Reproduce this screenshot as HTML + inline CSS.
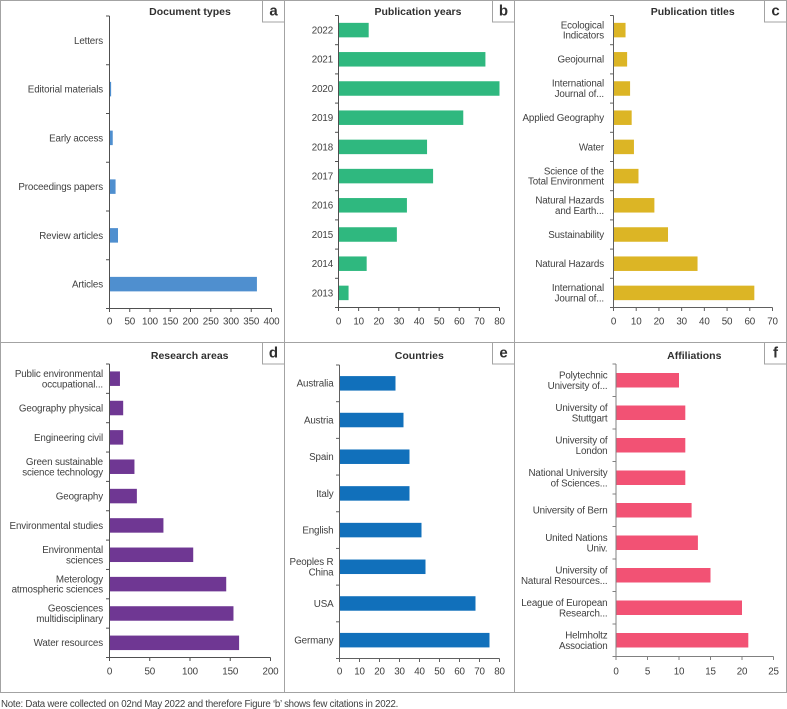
<!DOCTYPE html>
<html lang="en">
<head>
<meta charset="utf-8">
<title>Bibliometric overview charts</title>
<style>
html,body{margin:0;padding:0;background:#fff;}
body{width:787px;height:709px;overflow:hidden;}
svg{display:block;font-family:"Liberation Sans",sans-serif;}
.lbl{font-size:9.8px;letter-spacing:-0.14px;fill:#404040;}
.ttl{font-size:10.5px;font-weight:bold;fill:#303030;}
.let{font-size:15px;font-weight:bold;fill:#303030;}
.note{font-size:9.7px;letter-spacing:-0.235px;fill:#404040;}
</style>
</head>
<body>
<svg id="figure" xmlns="http://www.w3.org/2000/svg" width="787" height="709" viewBox="0 0 787 709">
  <g stroke="#a3a3a3" stroke-width="1" fill="none">
    <line x1="0" y1="0.5" x2="787" y2="0.5"/>
    <line x1="0.5" y1="0" x2="0.5" y2="692"/>
    <line x1="284.5" y1="0" x2="284.5" y2="692"/>
    <line x1="514.5" y1="0" x2="514.5" y2="692"/>
    <line x1="786.5" y1="0" x2="786.5" y2="692"/>
    <line x1="0" y1="342.5" x2="787" y2="342.5"/>
    <line x1="0" y1="692.5" x2="787" y2="692.5"/>
  </g>
  <text class="note" x="1" y="707">Note: Data were collected on 02nd May 2022 and therefore Figure ‘b’ shows few citations in 2022.</text>
</svg>
<script>
/* Panel a */
const docCategories = ["Letters","Editorial materials","Early access","Proceedings papers","Review articles","Articles"];
const docValues = [0,4,8,15,21,364];
const docTicks = [0,50,100,150,200,250,300,350,400];
/* Panel b */
const yearCategories = ["2022","2021","2020","2019","2018","2017","2016","2015","2014","2013"];
const yearValues = [15,73,80,62,44,47,34,29,14,5];
const yearTicks = [0,10,20,30,40,50,60,70,80];
/* Panel c */
const titleCategories = ["Ecological|Indicators","Geojournal","International|Journal of...","Applied Geography","Water","Science of the|Total Environment","Natural Hazards|and Earth...","Sustainability","Natural Hazards","International|Journal of..."];
const titleValues = [5.3,6,7.3,8,9,11,18,24,37,62];
const titleTicks = [0,10,20,30,40,50,60,70];
/* Panel d */
const areaCategories = ["Public environmental|occupational...","Geography physical","Engineering civil","Green sustainable|science technology","Geography","Environmental studies","Environmental|sciences","Meterology|atmospheric sciences","Geosciences|multidisciplinary","Water resources"];
const areaValues = [13,17,17,31,34,67,104,145,154,161];
const areaTicks = [0,50,100,150,200];
/* Panel e */
const countryCategories = ["Australia","Austria","Spain","Italy","English","Peoples R|China","USA","Germany"];
const countryValues = [28,32,35,35,41,43,68,75];
const countryTicks = [0,10,20,30,40,50,60,70,80];
/* Panel f */
const affilCategories = ["Polytechnic|University of...","University of|Stuttgart","University of|London","National University|of Sciences...","University of Bern","United Nations|Univ.","University of|Natural Resources...","League of European|Research...","Helmholtz|Association"];
const affilValues = [10,11,11,11,12,13,15,20,21];
const affilTicks = [0,5,10,15,20,25];

const NS = "http://www.w3.org/2000/svg";
const root = document.getElementById("figure");

function make(parent, tag, attrs, text){
  const el = document.createElementNS(NS, tag);
  for (const k in attrs) el.setAttribute(k, attrs[k]);
  if (text !== undefined) el.textContent = text;
  parent.appendChild(el);
  return el;
}

function drawPanel(p){
  const g = make(root, "g", {});
  
  

  const maxTick = p.ticks[p.ticks.length - 1];
  const xScale = v => p.x0 + (v / maxTick) * (p.x1 - p.x0);
  const band = (p.y1 - p.y0) / p.cats.length;
  const yCenter = i => p.y0 + band * (i + 0.5);
  const barH = 14.5;

  const title = make(g, "text", {class:"ttl", x:p.titleX, y:p.titleY, "text-anchor":"middle"}, p.title);
  
  

  p.vals.forEach((v, i) => {
    const bar = make(g, "rect", {x:xScale(0), y:yCenter(i) - barH / 2, width:xScale(v) - xScale(0), height:barH, fill:p.color});
    
    
  });

  const yAxis = make(g, "line", {x1:p.x0, y1:p.y0, x2:p.x0, y2:p.y1 + 0.5, stroke:p.axis, "stroke-width":1});
  
  
  const xAxis = make(g, "line", {x1:p.x0, y1:p.y1, x2:p.x1, y2:p.y1, stroke:p.axis, "stroke-width":1});
  
  

  for (let i = 0; i <= p.cats.length; i++){
    const yy = p.y0 + band * i;
    const tick = make(g, "line", {x1:p.x0 - 3.5, y1:yy, x2:p.x0, y2:yy, stroke:p.axis, "stroke-width":1});
    
    
  }

  p.cats.forEach((c, i) => {
    const lines = c.split("|");
    const startY = yCenter(i) + 3.4 - (lines.length - 1) * 5.2;
    const label = make(g, "text", {class:"lbl", x:p.labelX, y:startY, "text-anchor":"end"});
    
    
    lines.forEach((ln, j) => {
      make(label, "tspan", {x:p.labelX, y:startY + j * 10.4}, ln);
    });
  });

  p.ticks.forEach(t => {
    const xx = xScale(t);
    const tick = make(g, "line", {x1:xx, y1:p.y1, x2:xx, y2:p.y1 + 3.5, stroke:p.axis, "stroke-width":1});
    
    
    const label = make(g, "text", {class:"lbl", x:xx, y:p.y1 + p.tickDy, "text-anchor":"middle"}, String(t));
    
    
  });

  const box = make(g, "rect", {x:p.boxX + 0.5, y:p.boxY + 0.5, width:22, height:21.5, fill:"#fff", stroke:"#a3a3a3", "stroke-width":1});
  
  
  const letter = make(g, "text", {class:"let", x:p.boxX + 11.5, y:p.boxY + 15.5, "text-anchor":"middle"}, p.letter);
  
  
}

drawPanel({id:"document-types", title:"Document types", letter:"a", cats:docCategories, vals:docValues, ticks:docTicks, color:"#4f8fcf", axis:"#505050",
  x0:109.5, x1:271.5, y0:16, y1:308.5, labelX:103, titleX:190, titleY:15, tickDy:16, boxX:262, boxY:0});
drawPanel({id:"publication-years", title:"Publication years", letter:"b", cats:yearCategories, vals:yearValues, ticks:yearTicks, color:"#2fb87f", axis:"#505050",
  x0:338.5, x1:499.5, y0:15.5, y1:307.5, labelX:333, titleX:418, titleY:15, tickDy:17, boxX:492, boxY:0});
drawPanel({id:"publication-titles", title:"Publication titles", letter:"c", cats:titleCategories, vals:titleValues, ticks:titleTicks, color:"#dcb525", axis:"#606060",
  x0:613.5, x1:772.5, y0:15.5, y1:307.5, labelX:604, titleX:692.7, titleY:15, tickDy:17, boxX:764, boxY:0});
drawPanel({id:"research-areas", title:"Research areas", letter:"d", cats:areaCategories, vals:areaValues, ticks:areaTicks, color:"#6f3793", axis:"#505050",
  x0:109.5, x1:270.5, y0:364, y1:657.5, labelX:103, titleX:189.7, titleY:359, tickDy:17, boxX:262, boxY:342});
drawPanel({id:"countries", title:"Countries", letter:"e", cats:countryCategories, vals:countryValues, ticks:countryTicks, color:"#1170bb", axis:"#606060",
  x0:339.5, x1:499.5, y0:365, y1:658.5, labelX:333.5, titleX:419.3, titleY:359, tickDy:16, boxX:492, boxY:342});
drawPanel({id:"affiliations", title:"Affiliations", letter:"f", cats:affilCategories, vals:affilValues, ticks:affilTicks, color:"#f25274", axis:"#808080",
  x0:616, x1:773.5, y0:364, y1:656.5, labelX:607.5, titleX:694.3, titleY:359, tickDy:18, boxX:764, boxY:342});
</script>
</body>
</html>
